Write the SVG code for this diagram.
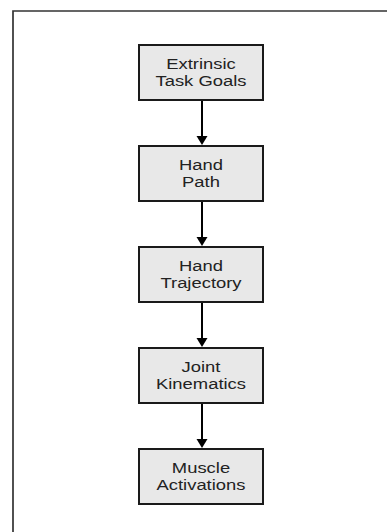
<svg xmlns="http://www.w3.org/2000/svg" width="387" height="532" viewBox="0 0 387 532">
<style>
.box{fill:#e8e8e8;stroke:#1a1a1a;stroke-width:2}
.lbl{font-family:"Liberation Sans",Arial,sans-serif;font-size:14.5px;fill:#222;text-anchor:middle}
.conn{stroke:#000;stroke-width:2;fill:none}
.head{fill:#000}
</style>
<rect width="387" height="532" fill="#fff"/>
<path d="M13,534 V11 H390" fill="none" stroke="#333" stroke-width="1.7"/>
<g id="n1"><rect class="box" x="139" y="45" width="124" height="55"/>
<text class="lbl" transform="translate(201,69) scale(1.27,1)">Extrinsic</text>
<text class="lbl" transform="translate(201,85.5) scale(1.27,1)">Task Goals</text></g>
<g id="n2"><rect class="box" x="139" y="146" width="124" height="55"/>
<text class="lbl" transform="translate(201,170) scale(1.27,1)">Hand</text>
<text class="lbl" transform="translate(201,186.5) scale(1.27,1)">Path</text></g>
<g id="n3"><rect class="box" x="139" y="247" width="124" height="55"/>
<text class="lbl" transform="translate(201,271) scale(1.27,1)">Hand</text>
<text class="lbl" transform="translate(201,287.5) scale(1.27,1)">Trajectory</text></g>
<g id="n4"><rect class="box" x="139" y="348" width="124" height="55"/>
<text class="lbl" transform="translate(201,372) scale(1.27,1)">Joint</text>
<text class="lbl" transform="translate(201,388.5) scale(1.27,1)">Kinematics</text></g>
<g id="n5"><rect class="box" x="139" y="449" width="124" height="55"/>
<text class="lbl" transform="translate(201,473) scale(1.27,1)">Muscle</text>
<text class="lbl" transform="translate(201,489.5) scale(1.27,1)">Activations</text></g>
<g id="connectors">
<line class="conn" x1="202" y1="101" x2="202" y2="137"/><polygon class="head" points="196.5,136 207.5,136 202,145"/>
<line class="conn" x1="202" y1="202" x2="202" y2="238"/><polygon class="head" points="196.5,237 207.5,237 202,246"/>
<line class="conn" x1="202" y1="303" x2="202" y2="339"/><polygon class="head" points="196.5,338 207.5,338 202,347"/>
<line class="conn" x1="202" y1="404" x2="202" y2="440"/><polygon class="head" points="196.5,439 207.5,439 202,448"/>
</g>
</svg>
